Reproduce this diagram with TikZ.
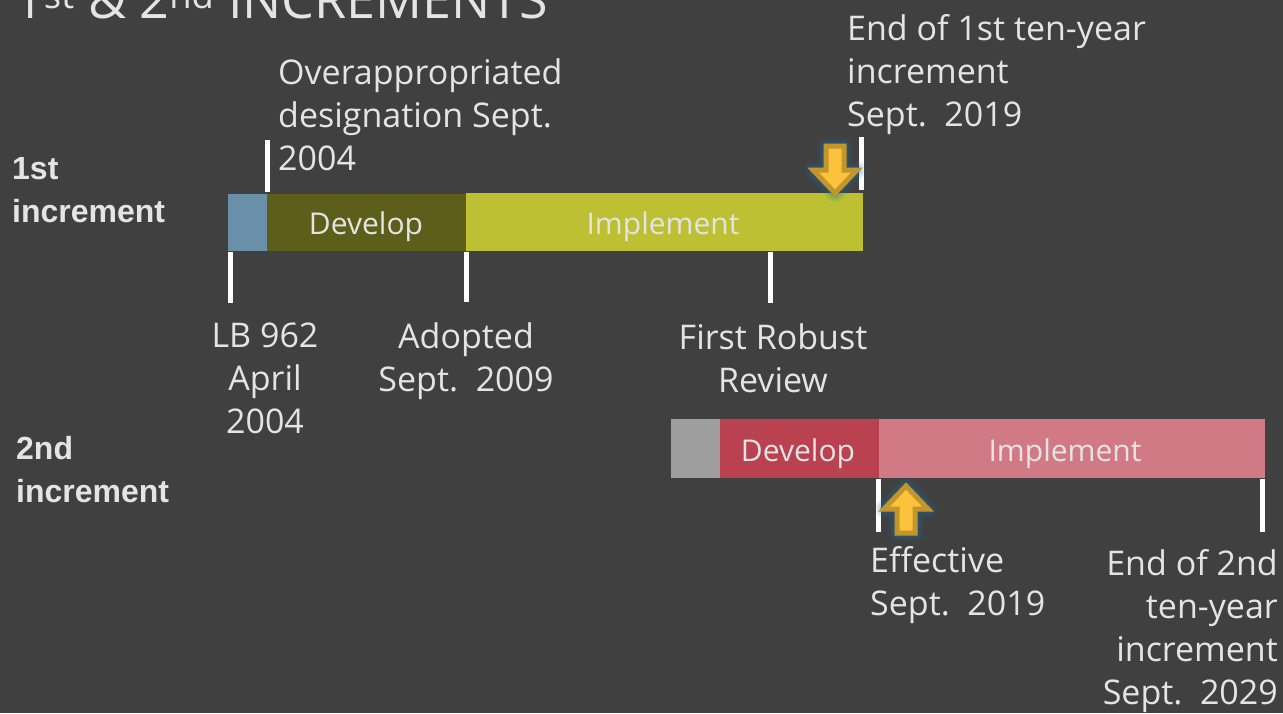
\documentclass[tikz,border=0pt]{standalone}
\usepackage{fontspec}
\setmainfont{Open Sans}
\newfontfamily\labfont{Liberation Sans}
\definecolor{bg}{HTML}{404040}
\definecolor{txt}{HTML}{E4E4E4}
\definecolor{cblue}{HTML}{6A8FA8}
\definecolor{colive}{HTML}{5C5E1A}
\definecolor{cyg}{HTML}{BCC032}
\definecolor{cgray}{HTML}{9E9E9E}
\definecolor{cred}{HTML}{B94150}
\definecolor{cpink}{HTML}{D17A85}
\definecolor{gold}{HTML}{FBC23C}
\definecolor{golddk}{HTML}{C3962C}
\definecolor{glow}{HTML}{1E6E9E}
\tikzset{
  tick/.style={draw=white,line width=5pt},
  big/.style={text=txt,font=\fontsize{34}{43}\selectfont,inner sep=0pt},
  barlab/.style={text=txt,font=\fontsize{30}{34}\selectfont,inner sep=0pt},
  rowlab/.style={text=txt,font=\labfont\bfseries\fontsize{32}{43}\selectfont,inner sep=0pt,align=left,anchor=west},
}
\begin{document}
\begin{tikzpicture}[x=1pt,y=-1pt]
\fill[bg] (0,0) rectangle (1283,713);
\useasboundingbox (0,0) rectangle (1283,713);
\begin{scope}
\clip (0,0) rectangle (1283,713);
\node[anchor=base west,text=txt,font=\fontsize{52}{52}\selectfont,inner sep=0pt] (title) at (14,18)
  {1\textsuperscript{st} \& 2\textsuperscript{nd} INCREMENTS};
\end{scope}
% bar 1
\fill[cblue] (228,194) rectangle (267,251);
\fill[colive] (267,194) rectangle (466,251);
\fill[cyg] (466,193) rectangle (863,251);
\node[barlab] (dev1) at (366,227) {Develop};
\node[barlab] (imp1) at (663,227) {Implement};
% bar 2
\fill[cgray] (671,419) rectangle (720,478);
\fill[cred] (720,419) rectangle (879,478);
\fill[cpink] (879,419) rectangle (1265,478);
\node[barlab] (dev2) at (798,454) {Develop};
\node[barlab] (imp2) at (1065,454) {Implement};
% ticks
\coordinate (t1a) at (267,140); \coordinate (t1b) at (267,192);
\draw[tick] (t1a) -- (t1b);
\coordinate (t2a) at (861,137); \coordinate (t2b) at (861,190);
\draw[tick] (t2a) -- (t2b);
\coordinate (t3a) at (230,252); \coordinate (t3b) at (230,303);
\draw[tick] (t3a) -- (t3b);
\coordinate (t4a) at (466,252); \coordinate (t4b) at (466,302);
\draw[tick] (t4a) -- (t4b);
\coordinate (t5a) at (770,252); \coordinate (t5b) at (770,303);
\draw[tick] (t5a) -- (t5b);
\coordinate (t6a) at (878,479); \coordinate (t6b) at (878,532);
\draw[tick] (t6a) -- (t6b);
\coordinate (t7a) at (1262,479); \coordinate (t7b) at (1262,532);
\draw[tick] (t7a) -- (t7b);
% row labels
\node[rowlab] (r1) at (12,190) {1st\\increment};
\node[rowlab] (r2) at (16,470) {2nd\\increment};
% texts
\node[big,anchor=north west,align=left] (over) at (278,58) {Overappropriated\\designation Sept.\\2004};
\node[big,anchor=north west,align=left] (end1) at (847,14) {End of 1st ten-year\\increment\\Sept.\ \ 2019};
\node[big,anchor=north,align=center] (lb) at (265,323) {LB 962\\April\\2004};
\node[big,anchor=north,align=center] (adopt) at (466,322) {Adopted\\Sept.\ \ 2009};
\node[big,anchor=north,align=center] (frr) at (773,323) {First Robust\\Review};
\node[big,anchor=north west,align=left] (eff) at (870,546) {Effective\\Sept.\ \ 2019};
\node[big,anchor=north east,align=right] (end2) at (1278,549) {End of 2nd\\ten-year\\increment\\Sept.\ \ 2029};
% arrows
\def\arrowshape{(-9,0) -- (9,0) -- (9,24) -- (22,24) -- (0,47) -- (-22,24) -- (-9,24) -- cycle}
\begin{scope}[shift={(835,146)}]
  \foreach \w/\o in {18/0.10,13/0.15,8/0.25}{
    \draw[glow,line width=\w pt,opacity=\o,line join=round] \arrowshape;}
  \fill[gold,draw=golddk,line width=5pt,line join=miter] \arrowshape;
\end{scope}
\begin{scope}[shift={(906,533)},yscale=-1]
  \foreach \w/\o in {18/0.10,13/0.15,8/0.25}{
    \draw[glow,line width=\w pt,opacity=\o,line join=round] \arrowshape;}
  \fill[gold,draw=golddk,line width=5pt,line join=miter] \arrowshape;
\end{scope}
\end{tikzpicture}
\end{document}
